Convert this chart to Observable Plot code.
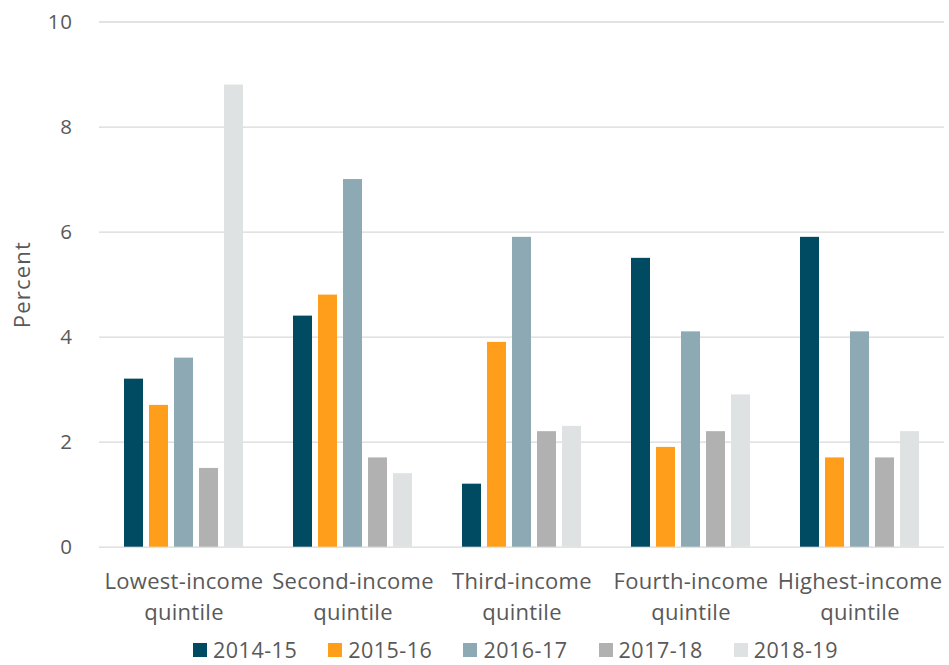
<!DOCTYPE html>
<html>
<head>
<meta charset="utf-8">
<script src="https://cdn.jsdelivr.net/npm/d3@7"></script>
<script src="https://cdn.jsdelivr.net/npm/@observablehq/plot@0.6"></script>
<style>
  body { margin: 0; background: #fff; font-family: "Open Sans", sans-serif; }
  g[aria-label="y-axis tick label"] text { letter-spacing: 0.6px; }
  g[aria-label="y-axis label"] text { letter-spacing: 1.2px; }
  g[aria-label="fx-axis tick label"] text { letter-spacing: 0.3px; }
  #legend {
    display: flex; justify-content: flex-start; align-items: center; gap: 31px;
    margin-left: 193px; height: 28px; line-height: 28px;
    font-size: 21.5px; color: #595959; letter-spacing: 0.5px;
  }
  #legend .item { display: flex; align-items: center; gap: 6px; }
  #legend .sw { width: 14px; height: 14px; display: inline-block; }
</style>
</head>
<body>
<div id="chart"></div>
<script>
// Income quintiles (facets) and their two-line axis labels
const quintiles = ["Lowest-income quintile", "Second-income quintile", "Third-income quintile", "Fourth-income quintile", "Highest-income quintile"];
const quintileLabels = ["Lowest-income\nquintile", "Second-income\nquintile", "Third-income\nquintile", "Fourth-income\nquintile", "Highest-income\nquintile"];

// Survey years (series)
const years = ["2014-15", "2015-16", "2016-17", "2017-18", "2018-19"];
const yearColors = ["#004a62", "#ff9e1b", "#8da9b4", "#b1b1b1", "#dee2e3"];

// Percent by quintile, one array per year
const pct2014 = [3.2, 4.4, 1.2, 5.5, 5.9];
const pct2015 = [2.7, 4.8, 3.9, 1.9, 1.7];
const pct2016 = [3.6, 7.0, 5.9, 4.1, 4.1];
const pct2017 = [1.5, 1.7, 2.2, 2.2, 1.7];
const pct2018 = [8.8, 1.4, 2.3, 2.9, 2.2];

const yTicks = [0, 2, 4, 6, 8, 10];

const series = [pct2014, pct2015, pct2016, pct2017, pct2018];
const rows = [];
quintiles.forEach((q, qi) => {
  years.forEach((y, yi) => rows.push({quintile: q, year: y, value: series[yi][qi]}));
});

const plot = Plot.plot({
  width: 949,
  height: 636,
  marginLeft: 97,
  marginRight: 4,
  marginTop: 21.5,
  marginBottom: 89.3,
  style: {fontFamily: "Open Sans", fontSize: "20px", color: "#595959", background: "white"},
  fx: {domain: quintiles, padding: 0, label: null},
  x: {domain: years, paddingInner: 0.23, paddingOuter: 0.877, axis: null},
  y: {domain: [0, 10]},
  color: {domain: years, range: yearColors},
  marks: [
    Plot.gridY(yTicks, {stroke: "#d9d9d9", strokeOpacity: 1, strokeWidth: 1.3}),
    Plot.barY(rows, {fx: "quintile", x: "year", y: "value", fill: "year"}),
    Plot.axisY({
      ticks: yTicks, tickSize: 0, tickPadding: 27, fontSize: 20.5,
      label: "Percent", labelAnchor: "center", labelOffset: 85, labelArrow: "none"
    }),
    Plot.axisFx({
      anchor: "bottom", tickSize: 0, tickPadding: 20, fontSize: 22, lineHeight: 1.4,
      label: null, tickFormat: (d) => quintileLabels[quintiles.indexOf(d)]
    })
  ]
});
// the y-axis title is a touch larger than the tick labels
d3.select(plot).selectAll('g[aria-label="y-axis label"] text').attr("font-size", 22);
document.getElementById("chart").appendChild(plot);

// Legend below the plot, built from the same color scale
const color = plot.scale("color");
const legend = d3.select("body").append("div").attr("id", "legend");
const items = legend.selectAll(".item").data(color.domain).join("div").attr("class", "item");
items.append("span").attr("class", "sw").style("background", (d, i) => color.range[i]);
items.append("span").text((d) => d);
</script>
</body>
</html>
